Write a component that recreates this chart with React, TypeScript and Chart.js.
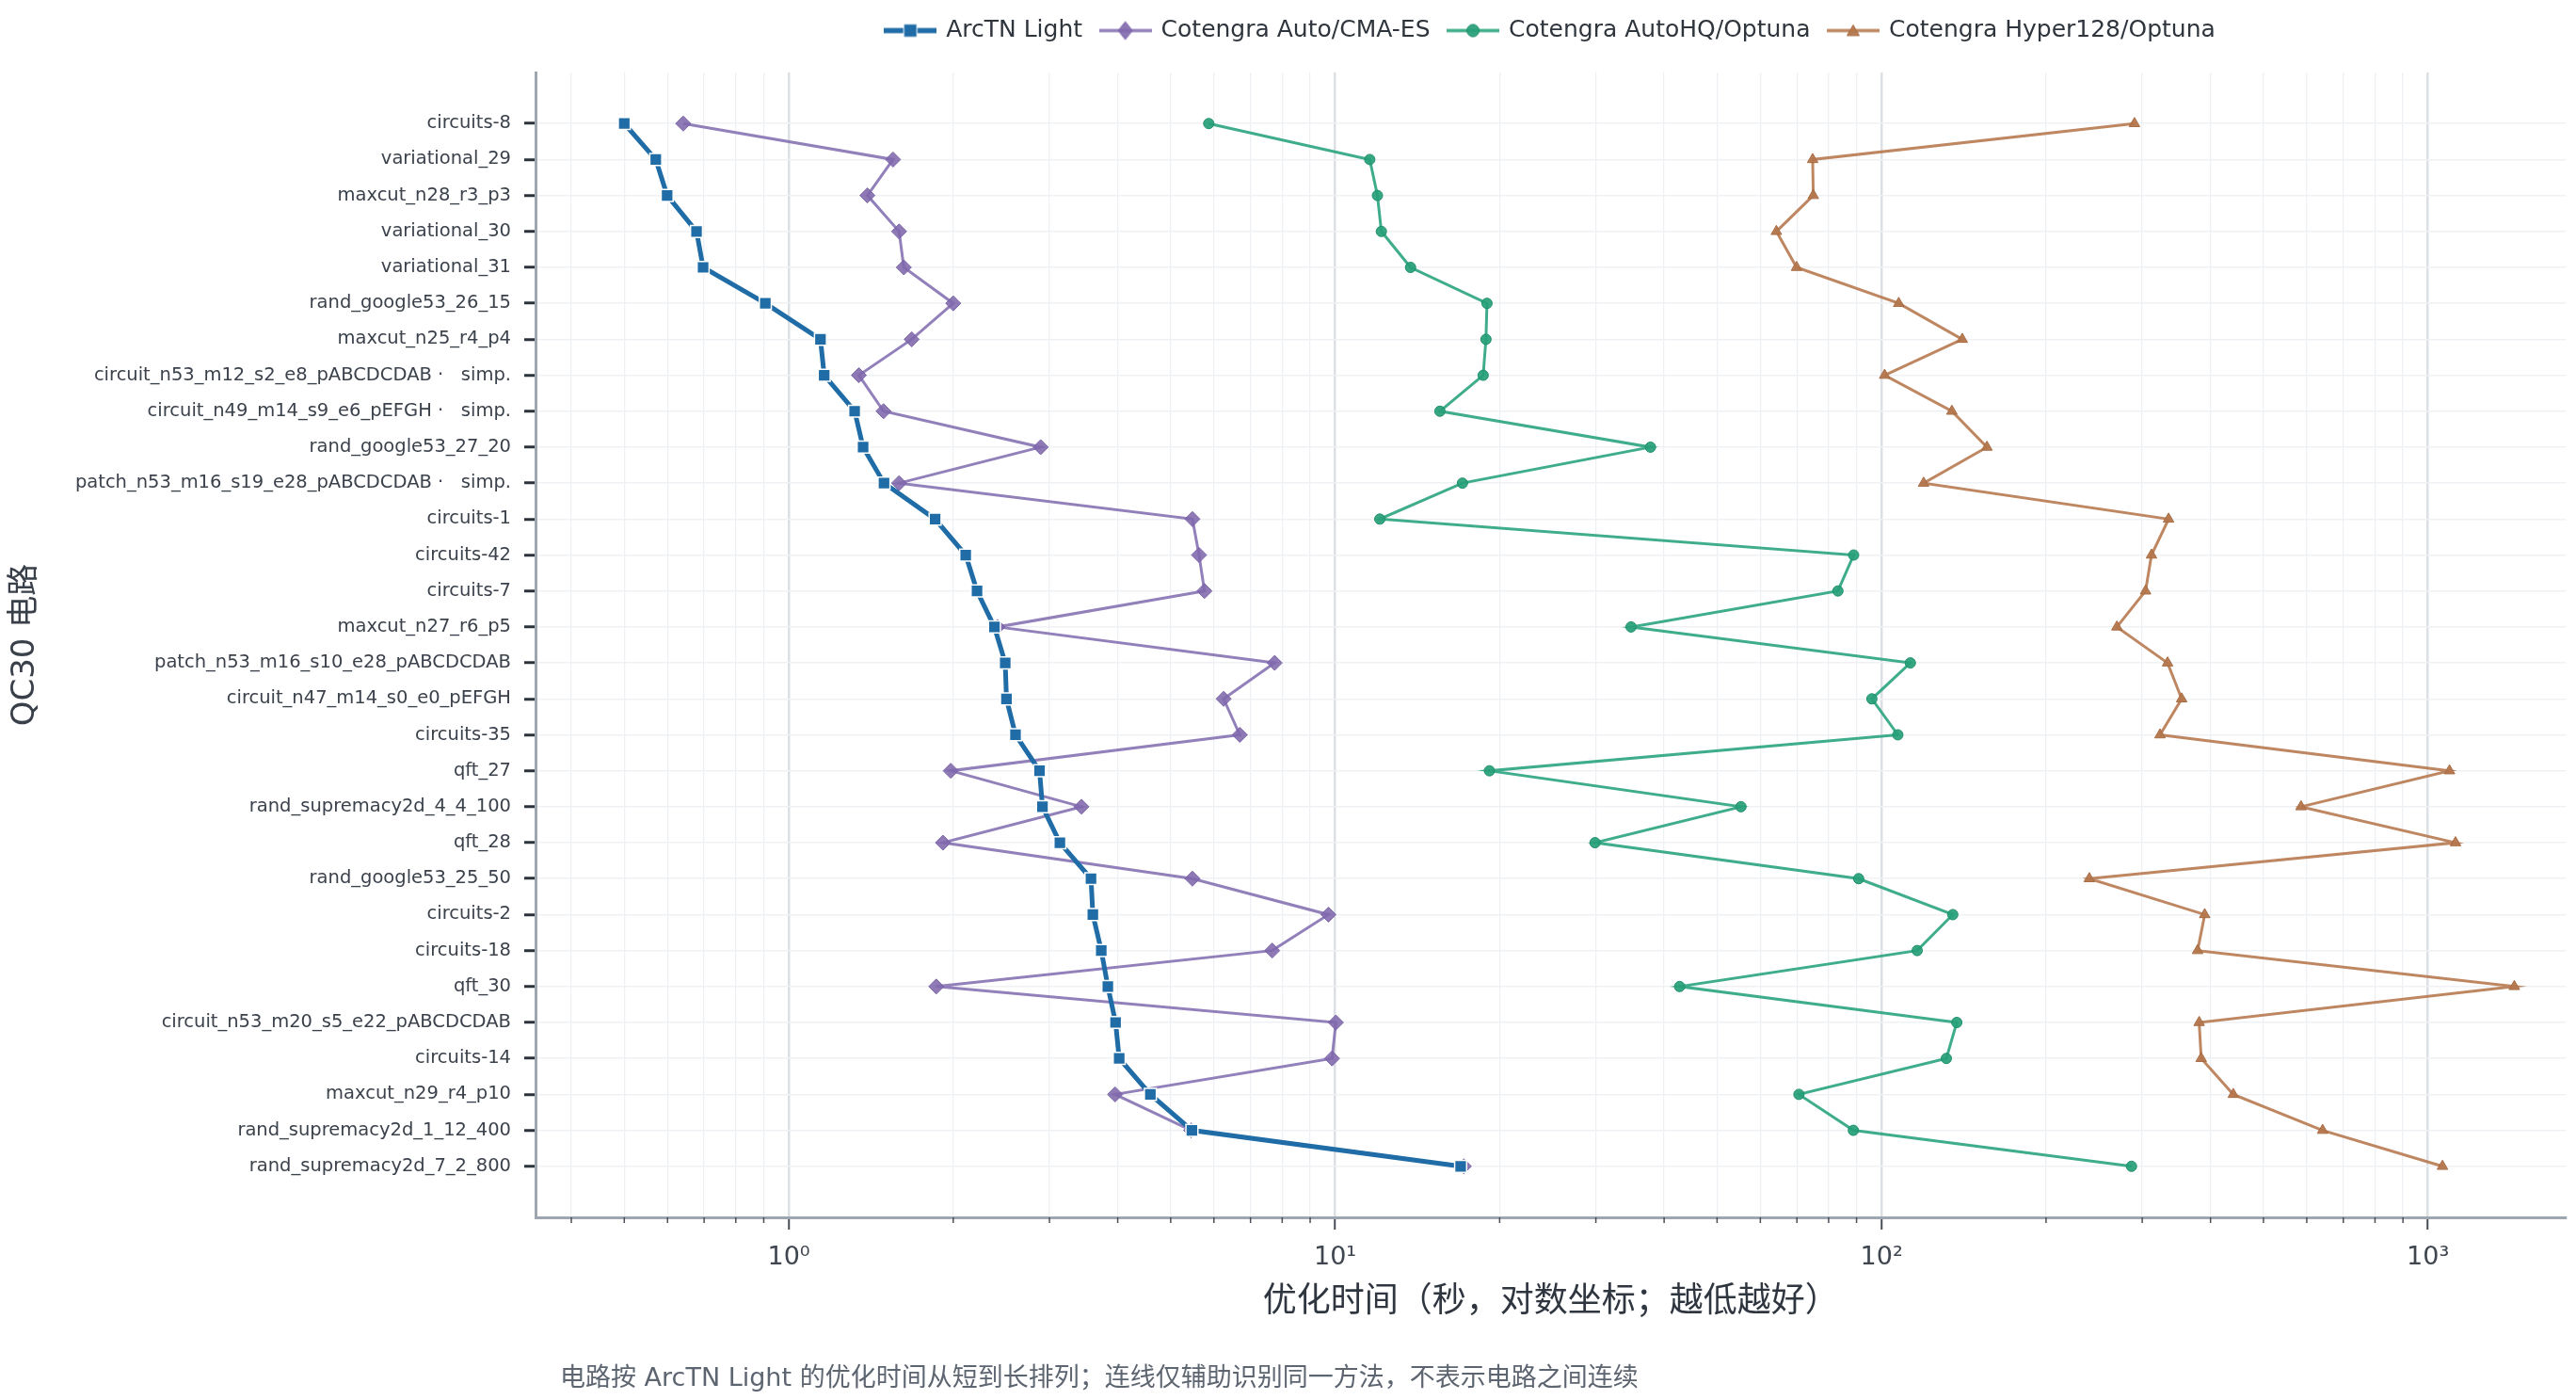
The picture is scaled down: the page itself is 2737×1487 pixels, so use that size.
import React, { useEffect, useRef } from 'react';
import { Chart, registerables } from 'chart.js';

Chart.register(...registerables);

const categories = [
  'circuits-8',
  'variational_29',
  'maxcut_n28_r3_p3',
  'variational_30',
  'variational_31',
  'rand_google53_26_15',
  'maxcut_n25_r4_p4',
  'circuit_n53_m12_s2_e8_pABCDCDAB ·   simp.',
  'circuit_n49_m14_s9_e6_pEFGH ·   simp.',
  'rand_google53_27_20',
  'patch_n53_m16_s19_e28_pABCDCDAB ·   simp.',
  'circuits-1',
  'circuits-42',
  'circuits-7',
  'maxcut_n27_r6_p5',
  'patch_n53_m16_s10_e28_pABCDCDAB',
  'circuit_n47_m14_s0_e0_pEFGH',
  'circuits-35',
  'qft_27',
  'rand_supremacy2d_4_4_100',
  'qft_28',
  'rand_google53_25_50',
  'circuits-2',
  'circuits-18',
  'qft_30',
  'circuit_n53_m20_s5_e22_pABCDCDAB',
  'circuits-14',
  'maxcut_n29_r4_p10',
  'rand_supremacy2d_1_12_400',
  'rand_supremacy2d_7_2_800',
];

const arctnLight = [
  0.5, 0.571, 0.599, 0.678, 0.697, 0.906, 1.143, 1.161, 1.32, 1.368,
  1.494, 1.853, 2.108, 2.211, 2.379, 2.49, 2.503, 2.6, 2.877, 2.913,
  3.135, 3.574, 3.602, 3.732, 3.837, 3.964, 4.025, 4.59, 5.468, 16.97,
];

const cotengraAutoCma = [
  0.641, 1.552, 1.393, 1.592, 1.624, 2.0, 1.679, 1.344, 1.491, 2.891,
  1.592, 5.48, 5.635, 5.765, 2.41, 7.75, 6.25, 6.69, 1.979, 3.433,
  1.915, 5.48, 9.72, 7.67, 1.862, 10.03, 9.87, 3.956, 5.45, 17.2,
];

const cotengraAutoHQ = [
  5.87, 11.57, 11.95, 12.15, 13.74, 18.96, 18.88, 18.66, 15.55, 37.76,
  17.1, 12.07, 88.9, 83.2, 34.8, 112.9, 96.0, 107.1, 19.16, 55.3,
  29.9, 90.8, 135.0, 116.2, 42.7, 137.3, 131.4, 70.6, 88.8, 286.7,
];

const cotengraHyper128 = [
  290.3, 74.8, 75.0, 64.2, 69.9, 107.5, 140.5, 101.3, 134.5, 155.9,
  119.4, 335.2, 311.9, 304.2, 269.6, 333.8, 354.2, 323.3, 1095, 585.8,
  1123, 240.0, 390.3, 378.8, 1439, 381.3, 384.6, 440.3, 641.5, 1063,
];

const seriesNames = [
  'ArcTN Light',
  'Cotengra Auto/CMA-ES',
  'Cotengra AutoHQ/Optuna',
  'Cotengra Hyper128/Optuna',
];

const xTickValues = [
  0.4, 0.5, 0.6, 0.7, 0.8, 0.9,
  1, 2, 3, 4, 5, 6, 7, 8, 9,
  10, 20, 30, 40, 50, 60, 70, 80, 90,
  100, 200, 300, 400, 500, 600, 700, 800, 900,
  1000,
];
const xMajorValues = [1, 10, 100, 1000];
const xMajorLabels = ['10⁰', '10¹', '10²', '10³'];
const X_MIN = 0.344;
const X_MAX = 1790;

const xTitle = '优化时间（秒，对数坐标；越低越好）';
const yTitle = 'QC30 电路';
const caption = '电路按 ArcTN Light 的优化时间从短到长排列；连线仅辅助识别同一方法，不表示电路之间连续';

const FONT = "'DejaVu Sans', 'Noto Sans CJK SC', sans-serif";

const COLORS = {
  blue: '#1f6ca6',
  purple: '#8672b3',
  green: '#2aa47e',
  brown: '#b77a50',
};

type Marker = 'rect' | 'rectRot' | 'circle' | 'triangle';

function makeIcon(line: string, lw: number, fill: string, stroke: string, sw: number, marker: Marker, r: number) {
  const c = document.createElement('canvas');
  c.width = 56;
  c.height = 26;
  const g = c.getContext('2d') as CanvasRenderingContext2D;
  const cx = 28;
  const cy = 13;
  g.strokeStyle = line;
  g.lineWidth = lw;
  g.beginPath();
  g.moveTo(0, cy);
  g.lineTo(56, cy);
  g.stroke();
  g.fillStyle = fill;
  g.strokeStyle = stroke;
  g.lineWidth = sw;
  g.beginPath();
  if (marker === 'rect') {
    g.rect(cx - r, cy - r, 2 * r, 2 * r);
  } else if (marker === 'rectRot') {
    g.moveTo(cx, cy - r);
    g.lineTo(cx + r * 0.8, cy);
    g.lineTo(cx, cy + r);
    g.lineTo(cx - r * 0.8, cy);
    g.closePath();
  } else if (marker === 'circle') {
    g.arc(cx, cy, r, 0, Math.PI * 2);
  } else {
    for (let k = 0; k < 3; k++) {
      const a = (k * 2 * Math.PI) / 3;
      const px = cx + Math.sin(a) * r;
      const py = cy + 1.5 - Math.cos(a) * r;
      if (k === 0) g.moveTo(px, py);
      else g.lineTo(px, py);
    }
    g.closePath();
  }
  g.fill();
  if (sw > 0) g.stroke();
  return c;
}

export default function App() {
  const canvasRef = useRef<HTMLCanvasElement | null>(null);

  useEffect(() => {
    const canvas = canvasRef.current;
    if (!canvas) return;

    const icons = [
      makeIcon(COLORS.blue, 5.5, COLORS.blue, '#ffffff', 1, 'rect', 7),
      makeIcon('rgba(134,114,179,0.9)', 3.3, 'rgba(128,104,172,0.9)', '#7a64a8', 1, 'rectRot', 9.5),
      makeIcon('rgba(42,164,126,0.9)', 3.3, 'rgba(38,160,120,0.92)', '#1f8f6a', 1, 'circle', 6.5),
      makeIcon('rgba(183,122,80,0.9)', 3.3, 'rgba(180,118,76,0.95)', '#a86c44', 1, 'triangle', 7.5),
    ];

    const toPoints = (arr: number[]) => arr.map((v, i) => ({ x: v, y: i }));

    const extrasPlugin = {
      id: 'extras',
      afterDraw(chart: any) {
        const sc = chart.scales.x;
        const ctx = chart.ctx as CanvasRenderingContext2D;
        ctx.save();
        ctx.strokeStyle = '#4a5059';
        ctx.lineWidth = 1.5;
        sc.ticks.forEach((t: any) => {
          if (!t.major) {
            const px = sc.getPixelForValue(t.value);
            ctx.beginPath();
            ctx.moveTo(px, sc.top);
            ctx.lineTo(px, sc.top + 6);
            ctx.stroke();
          }
        });
        ctx.fillStyle = '#5d6571';
        ctx.font = `27px ${FONT}`;
        ctx.textBaseline = 'middle';
        ctx.textAlign = 'left';
        ctx.fillText(caption, chart.chartArea.left + 26, 1465);
        ctx.restore();
      },
    };

    const chart = new Chart(canvas, {
      type: 'line',
      data: {
        datasets: [
          {
            label: seriesNames[0],
            data: toPoints(arctnLight),
            borderColor: COLORS.blue,
            borderWidth: 5,
            pointStyle: 'rect',
            pointRadius: 9,
            pointBackgroundColor: COLORS.blue,
            pointBorderColor: '#ffffff',
            pointBorderWidth: 1.5,
            tension: 0,
          },
          {
            label: seriesNames[1],
            data: toPoints(cotengraAutoCma),
            borderColor: 'rgba(134,114,179,0.9)',
            borderWidth: 3,
            pointStyle: 'rectRot',
            pointRadius: 8,
            pointBackgroundColor: 'rgba(128,104,172,0.88)',
            pointBorderColor: '#7a64a8',
            pointBorderWidth: 1,
            tension: 0,
          },
          {
            label: seriesNames[2],
            data: toPoints(cotengraAutoHQ),
            borderColor: 'rgba(42,164,126,0.9)',
            borderWidth: 3,
            pointStyle: 'circle',
            pointRadius: 5.5,
            pointBackgroundColor: 'rgba(38,160,120,0.92)',
            pointBorderColor: '#1f8f6a',
            pointBorderWidth: 1,
            tension: 0,
          },
          {
            label: seriesNames[3],
            data: toPoints(cotengraHyper128),
            borderColor: 'rgba(183,122,80,0.9)',
            borderWidth: 3,
            pointStyle: 'triangle',
            pointRadius: 6.5,
            pointBackgroundColor: 'rgba(180,118,76,0.95)',
            pointBorderColor: '#a86c44',
            pointBorderWidth: 1,
            tension: 0,
          },
        ],
      },
      options: {
        responsive: true,
        maintainAspectRatio: false,
        animation: false,
        layout: { padding: { left: 0, right: 10, top: 0, bottom: 0 } },
        scales: {
          x: {
            type: 'logarithmic',
            bounds: 'data',
            min: X_MIN,
            max: X_MAX,
            afterBuildTicks: (s: any) => {
              s.ticks = xTickValues.map((v) => ({ value: v, major: xMajorValues.includes(v) }));
              s.min = X_MIN;
              s.max = X_MAX;
            },
            afterFit: (s: any) => {
              s.height = 194;
            },
            ticks: {
              autoSkip: false,
              maxRotation: 0,
              minRotation: 0,
              padding: 14,
              color: '#3f4650',
              font: { family: FONT, size: 27 },
              callback: (v: any) => {
                const i = xMajorValues.indexOf(Number(v));
                return i >= 0 ? xMajorLabels[i] : '';
              },
            },
            grid: {
              color: (c: any) => (c.tick && c.tick.major ? '#dcdfe4' : '#eef0f3'),
              lineWidth: (c: any) => (c.tick && c.tick.major ? 2.5 : 1.3),
              tickLength: 13,
              tickColor: (c: any) => (c.tick && c.tick.major ? '#474d56' : 'rgba(0,0,0,0)'),
              tickWidth: 2,
            },
            border: { color: '#9ea6b0', width: 3 },
            title: {
              display: true,
              text: xTitle,
              color: '#2f3640',
              font: { family: FONT, size: 36 },
              padding: { top: 0, bottom: 82 },
            },
          },
          xTopSpacer: {
            type: 'linear',
            position: 'top',
            display: true,
            afterFit: (s: any) => {
              s.height = 22;
            },
            ticks: { display: false },
            grid: { display: false, drawTicks: false },
            border: { display: false },
          },
          y: {
            type: 'linear',
            reverse: true,
            min: -1.42,
            max: 30.42,
            afterBuildTicks: (s: any) => {
              s.ticks = categories.map((_, i) => ({ value: i }));
            },
            afterFit: (s: any) => {
              s.width = 569;
            },
            ticks: {
              autoSkip: false,
              padding: 14,
              color: '#3b424c',
              font: { family: FONT, size: 19.5 },
              callback: (v: any) => categories[Number(v)] ?? '',
            },
            grid: {
              color: '#eff1f4',
              lineWidth: 1.5,
              tickLength: 12,
              tickColor: '#2d333b',
              tickWidth: 3,
            },
            border: { color: '#9ea6b0', width: 3 },
            title: {
              display: true,
              text: yTitle,
              color: '#39404a',
              font: { family: FONT, size: 34 },
              padding: { top: 7, bottom: 0 },
            },
          },
        },
        plugins: {
          tooltip: { enabled: false },
          title: { display: false },
          legend: {
            position: 'top',
            fullSize: false,
            weight: 1000,
            labels: {
              usePointStyle: true,
              pointStyleWidth: 51,
              padding: 20,
              color: '#2f353d',
              font: { family: FONT, size: 25 },
              generateLabels: (ch: any) => {
                const items = (Chart.defaults.plugins.legend.labels as any).generateLabels(ch);
                items.forEach((it: any, i: number) => {
                  it.pointStyle = icons[i];
                });
                return items;
              },
            },
          },
        },
      } as any,
      plugins: [extrasPlugin],
    });

    return () => {
      chart.destroy();
    };
  }, []);

  return (
    <div style={{ position: 'fixed', left: 0, top: 0, width: '100vw', height: '100vh', background: '#ffffff' }}>
      <canvas ref={canvasRef} />
    </div>
  );
}
